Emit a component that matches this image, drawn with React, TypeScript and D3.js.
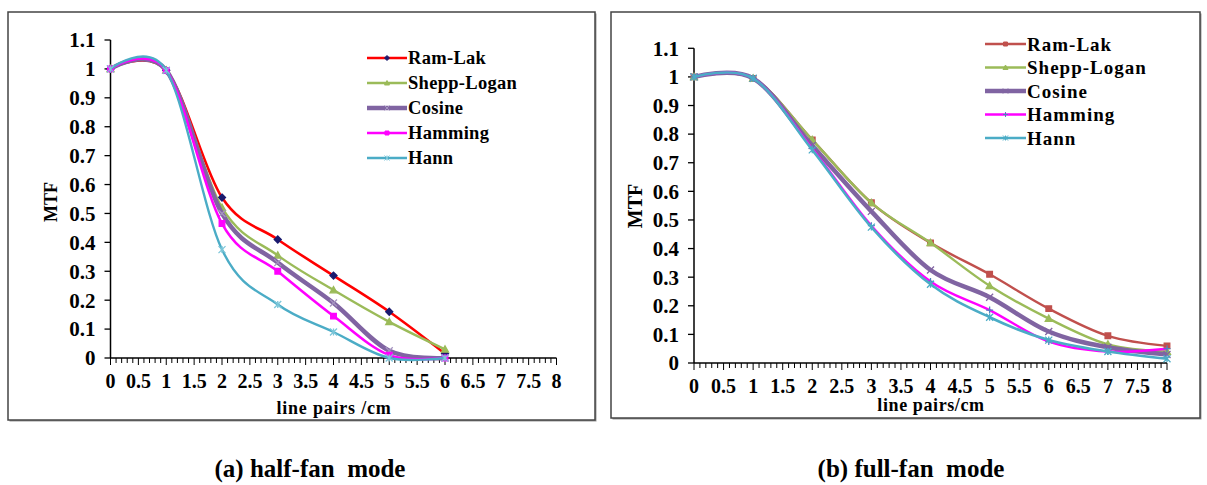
import React from "react";
import * as d3 from "d3";

const seriesNames = ["Ram-Lak", "Shepp-Logan", "Cosine", "Hamming", "Hann"];

const halfX = [0, 1, 2, 3, 4, 5, 6];
const halfRamLak = [1.0, 0.995, 0.555, 0.41, 0.285, 0.16, 0.015];
const halfShepp = [1.0, 0.995, 0.52, 0.355, 0.235, 0.125, 0.03];
const halfCosine = [1.0, 0.995, 0.5, 0.33, 0.19, 0.025, 0.0];
const halfHamming = [1.0, 0.995, 0.465, 0.3, 0.145, 0.01, 0.0];
const halfHann = [1.0, 0.995, 0.375, 0.185, 0.09, 0.0, 0.0];

const fullX = [0, 1, 2, 3, 4, 5, 6, 7, 8];
const fullRamLak = [1.0, 0.995, 0.78, 0.56, 0.42, 0.31, 0.19, 0.095, 0.06];
const fullShepp = [1.0, 0.995, 0.78, 0.56, 0.42, 0.27, 0.155, 0.065, 0.04];
const fullCosine = [1.0, 0.995, 0.76, 0.53, 0.325, 0.23, 0.11, 0.055, 0.03];
const fullHamming = [1.0, 0.995, 0.75, 0.48, 0.285, 0.185, 0.075, 0.04, 0.05];
const fullHann = [1.0, 0.995, 0.745, 0.475, 0.275, 0.16, 0.08, 0.04, 0.015];

const xTickValues = d3.range(0, 8.001, 0.5);
const yTickValues = d3.range(0, 1.1001, 0.1);
const captions = ["(a) half-fan\u00a0 mode", "(b) full-fan\u00a0 mode"];
const xTitles = ["line pairs /cm", "line pairs/cm"];

const FONT = '"Liberation Serif", monospace';

type Style = { color: string; width: number; marker: string; markerColor: string };

const halfStyles: Style[] = [
  { color: "#ff0000", width: 2.6, marker: "diamond", markerColor: "#1a1a6e" },
  { color: "#9bbb59", width: 2.4, marker: "triangle", markerColor: "#9bbb59" },
  { color: "#8064a2", width: 4.5, marker: "x", markerColor: "#a594c0" },
  { color: "#ff00ff", width: 2.6, marker: "square", markerColor: "#ff00ff" },
  { color: "#4bacc6", width: 2.4, marker: "star", markerColor: "#7cc6d9" },
];
const fullStyles: Style[] = [
  { color: "#c0504d", width: 2.4, marker: "square", markerColor: "#c0504d" },
  { color: "#9bbb59", width: 2.4, marker: "triangle", markerColor: "#9bbb59" },
  { color: "#8064a2", width: 4.5, marker: "x", markerColor: "#8064a2" },
  { color: "#ff00ff", width: 2.4, marker: "plus", markerColor: "#4f81bd" },
  { color: "#4bacc6", width: 2.6, marker: "star", markerColor: "#4bacc6" },
];

function markerPath(kind: string, s: number) {
  switch (kind) {
    case "diamond":
      return `M0,${-s}L${s},0L0,${s}L${-s},0Z`;
    case "triangle":
      return `M0,${-s}L${s},${s * 0.8}L${-s},${s * 0.8}Z`;
    case "square":
      return `M${-s * 0.8},${-s * 0.8}h${s * 1.6}v${s * 1.6}h${-s * 1.6}Z`;
    case "x":
      return `M${-s},${-s}L${s},${s}M${-s},${s}L${s},${-s}`;
    case "plus":
      return `M${-s},0L${s},0M0,${-s}L0,${s}`;
    default:
      return `M${-s},${-s}L${s},${s}M${-s},${s}L${s},${-s}M0,${-s}L0,${s}`;
  }
}

type PanelProps = {
  box: [number, number, number, number];
  plot: { x0: number; x1: number; y0: number; y1: number };
  xs: number[];
  data: number[][];
  styles: Style[];
  legend: { x: number; y: number; dy: number; len: number; fs: number; ls: number };
  xTitle: string;
  xTitleY: number;
  xTitleX: number;
  xTitleLs: number;
  mtfX: number;
  mtfY: number;
  mtfFs: number;
  caption: string;
  captionX: number;
  tickLabelDy: number;
};

const txt = (size: number, extra: any = {}) => ({
  fontFamily: FONT,
  fontWeight: 700,
  fontSize: size + "px",
  ...extra,
});

function Panel(p: PanelProps) {
  const x = d3.scaleLinear().domain([0, 8]).range([p.plot.x0, p.plot.x1]);
  const y = d3.scaleLinear().domain([0, 1.1]).range([p.plot.y0, p.plot.y1]);
  const line = d3
    .line<[number, number]>()
    .x((d) => x(d[0]))
    .y((d) => y(d[1]))
    .curve(d3.curveCardinal.tension(0));
  const minor = d3.range(0, 80.5, 1).map((i) => i / 10);
  const fmtY = (v: number) => (Math.abs(v - 1) < 1e-9 ? "1" : Math.abs(v) < 1e-9 ? "0" : v.toFixed(1));
  const fmtX = (v: number) => (Math.abs(v - Math.round(v)) < 1e-9 ? String(Math.round(v)) : v.toFixed(1));
  const [bx, by, bw, bh] = p.box;
  return (
    <g>
      <rect x={bx + 1.5} y={by + 1.5} width={bw} height={bh} fill="#999" />
      <rect x={bx} y={by} width={bw} height={bh} fill="#fff" stroke="#444" strokeWidth={1.5} />
      <line x1={p.plot.x0} x2={p.plot.x0} y1={p.plot.y1} y2={p.plot.y0} stroke="#000" strokeWidth={1.5} />
      {yTickValues.map((v, i) => (
        <g key={"yt" + i}>
          <line x1={p.plot.x0 - 6} x2={p.plot.x0} y1={y(v)} y2={y(v)} stroke="#000" strokeWidth={1.3} />
          <text x={p.plot.x0 - 15} y={y(v)} dy="0.35em" textAnchor="end" style={txt(21)}>
            {fmtY(v)}
          </text>
        </g>
      ))}
      <line x1={p.plot.x0} x2={p.plot.x1} y1={p.plot.y0} y2={p.plot.y0} stroke="#000" strokeWidth={1.5} />
      {minor.map((v, i) => (
        <line
          key={"xm" + i}
          x1={x(v)}
          x2={x(v)}
          y1={p.plot.y0}
          y2={p.plot.y0 + (i % 5 === 0 ? 7 : 5)}
          stroke="#000"
          strokeWidth={1}
        />
      ))}
      {xTickValues.map((v, i) => (
        <text key={"xl" + i} x={x(v)} y={p.plot.y0 + p.tickLabelDy} textAnchor="middle" style={txt(20)}>
          {fmtX(v)}
        </text>
      ))}
      <text x={p.xTitleX} y={p.xTitleY} textAnchor="middle" style={txt(18, { letterSpacing: p.xTitleLs + "px" })}>
        {p.xTitle}
      </text>
      <text transform={`translate(${p.mtfX},${p.mtfY}) rotate(-90)`} textAnchor="middle" style={txt(p.mtfFs)}>
        MTF
      </text>
      {p.data.map((vals, si) => {
        const pts: [number, number][] = p.xs.map((xv, i) => [xv, vals[i]]);
        const st = p.styles[si];
        return (
          <g key={"s" + si}>
            <path d={line(pts) || ""} fill="none" stroke={st.color} strokeWidth={st.width} strokeLinejoin="round" />
            {pts.map((pt, i) => {
              const k = st.marker;
              const filled = k === "diamond" || k === "triangle" || k === "square";
              return (
                <path
                  key={i}
                  transform={`translate(${x(pt[0])},${y(pt[1])})`}
                  d={markerPath(k, 3.5)}
                  fill={filled ? st.markerColor : "none"}
                  stroke={st.markerColor}
                  strokeWidth={1.3}
                />
              );
            })}
          </g>
        );
      })}
      {seriesNames.map((name, i) => {
        const st = p.styles[i];
        const ly = p.legend.y + i * p.legend.dy;
        const k = st.marker;
        const filled = k === "diamond" || k === "triangle" || k === "square";
        return (
          <g key={"lg" + i}>
            <line x1={p.legend.x} x2={p.legend.x + p.legend.len} y1={ly} y2={ly} stroke={st.color} strokeWidth={st.width} />
            <path
              transform={`translate(${p.legend.x + p.legend.len / 2},${ly})`}
              d={markerPath(k, 2.5)}
              fill={filled ? st.markerColor : "none"}
              stroke={st.markerColor}
              strokeWidth={1}
            />
            <text
              x={p.legend.x + p.legend.len + 1}
              y={ly}
              dy="0.35em"
              style={txt(p.legend.fs, { letterSpacing: p.legend.ls + "px" })}
            >
              {name}
            </text>
          </g>
        );
      })}
      <text x={p.captionX} y={477} textAnchor="middle" style={txt(25)}>
        {p.caption}
      </text>
    </g>
  );
}

export default function App() {
  return (
    <svg width={1207} height={485} style={{ position: "absolute", left: 0, top: 0, background: "#fff" }}>
      <rect x={0} y={0} width={1207} height={485} fill="#fff" />
      <Panel
        box={[8, 12, 587, 408]}
        plot={{ x0: 110.5, x1: 556.5, y0: 358, y1: 40 }}
        xs={halfX}
        data={[halfRamLak, halfShepp, halfCosine, halfHamming, halfHann]}
        styles={halfStyles}
        legend={{ x: 367, y: 58, dy: 25, len: 40, fs: 18.5, ls: 0.3 }}
        xTitle={xTitles[0]}
        xTitleX={334}
        xTitleY={414}
        xTitleLs={0.8}
        mtfX={57}
        mtfY={202}
        mtfFs={18}
        caption={captions[0]}
        captionX={310}
        tickLabelDy={30}
      />
      <Panel
        box={[611, 12, 589, 406]}
        plot={{ x0: 694, x1: 1167, y0: 363, y1: 48.3 }}
        xs={fullX}
        data={[fullRamLak, fullShepp, fullCosine, fullHamming, fullHann]}
        styles={fullStyles}
        legend={{ x: 985, y: 44, dy: 23.5, len: 41, fs: 19, ls: 1 }}
        xTitle={xTitles[1]}
        xTitleX={931}
        xTitleY={411}
        xTitleLs={0.6}
        mtfX={642}
        mtfY={206}
        mtfFs={20}
        caption={captions[1]}
        captionX={911}
        tickLabelDy={30}
      />
    </svg>
  );
}
